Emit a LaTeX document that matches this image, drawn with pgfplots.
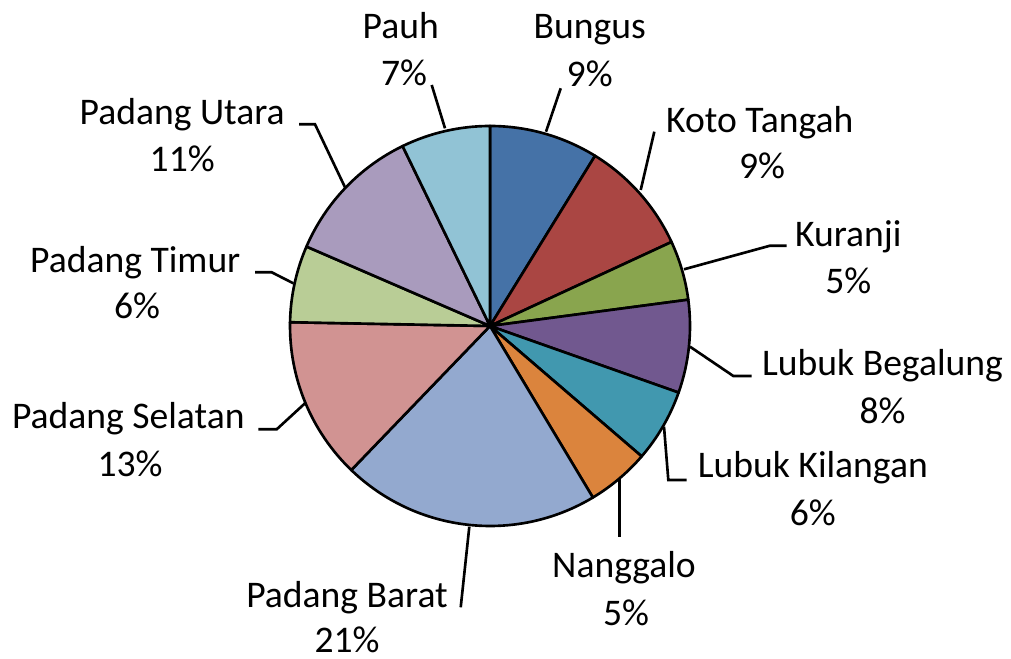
\documentclass[border=0pt]{standalone}
\usepackage{pgfplots}
\pgfplotsset{compat=1.18}
\usepackage{fontspec}
\setmainfont{Carlito}
\definecolor{cBungus}{HTML}{4572A7}
\definecolor{cKoto}{HTML}{AA4643}
\definecolor{cKuranji}{HTML}{89A54E}
\definecolor{cLB}{HTML}{71588F}
\definecolor{cLK}{HTML}{4198AF}
\definecolor{cNang}{HTML}{DB843D}
\definecolor{cPB}{HTML}{93A9CF}
\definecolor{cPS}{HTML}{D19392}
\definecolor{cPT}{HTML}{B9CD96}
\definecolor{cPU}{HTML}{A99BBD}
\definecolor{cPauh}{HTML}{91C3D5}
\tikzset{lbl/.style={font=\fontsize{10.7}{13}\selectfont, inner sep=0pt, anchor=base}}
\begin{document}
\begin{tikzpicture}
\path[use as bounding box] (0,0) rectangle (101.1mm,65.8mm);
\begin{axis}[at={(0,0)}, anchor=south west, x=0.1mm, y=0.1mm,
  xmin=0, xmax=1011, ymin=0, ymax=658, hide axis, clip=false]
\gdef\acc{0}
% share of each district (percent), clockwise from 12 o'clock
\foreach \v/\c in {8.8/cBungus, 9.3/cKoto, 4.8/cKuranji, 7.5/cLB, 5.9/cLK,
                   5.1/cNang, 20.8/cPB, 13.1/cPS, 6.2/cPT, 11.3/cPU, 7.2/cPauh}{
  \pgfmathsetmacro\angA{90-3.6*\acc}
  \pgfmathsetmacro\angB{90-3.6*(\acc+\v)}
  \edef\tmp{\noexpand\draw[fill=\c, draw=black, line width=0.75pt, line join=round]
    (axis cs:490,332) -- ++(\angA:20mm) arc[start angle=\angA, end angle=\angB, radius=20mm] -- cycle;}
  \tmp
  \pgfmathsetmacro\nacc{\acc+\v}
  \xdef\acc{\nacc}
}
% leader lines
\begin{scope}[line width=0.75pt]
\draw (axis cs:445,529.7) -- (axis cs:431.7,573);
\draw (axis cs:546,526.3) -- (axis cs:560.7,569.7);
\draw (axis cs:640.7,468) -- (axis cs:654.3,526.3);
\draw (axis cs:684,388.7) -- (axis cs:770,412.3) -- (axis cs:786.7,412.3);
\draw (axis cs:690,311.3) -- (axis cs:733.3,282) -- (axis cs:751.7,282);
\draw (axis cs:664,231.3) -- (axis cs:668.3,178) -- (axis cs:686.7,178);
\draw (axis cs:619.3,178.7) -- (axis cs:619.3,120.7);
\draw (axis cs:469.3,131.3) -- (axis cs:460.7,50.7);
\draw (axis cs:305,254.7) -- (axis cs:276.7,228.7) -- (axis cs:258.3,228.7);
\draw (axis cs:293.3,374.7) -- (axis cs:271.7,385.7) -- (axis cs:255,385.7);
\draw (axis cs:345,470.7) -- (axis cs:315,533.7) -- (axis cs:299,533.7);
\end{scope}
% labels
\node[lbl] at (axis cs:400.8,619.7) {Pauh};
\node[lbl] at (axis cs:404,572) {7\%};
\node[lbl] at (axis cs:589.7,619) {Bungus};
\node[lbl] at (axis cs:589.7,571) {9\%};
\node[lbl] at (axis cs:759.7,525.7) {Koto Tangah};
\node[lbl] at (axis cs:762,479.7) {9\%};
\node[lbl] at (axis cs:848.3,411.3) {Kuranji};
\node[lbl] at (axis cs:848.3,364.7) {5\%};
\node[lbl] at (axis cs:882.5,282) {Lubuk Begalung};
\node[lbl] at (axis cs:882.5,234.7) {8\%};
\node[lbl] at (axis cs:812.8,180.3) {Lubuk Kilangan};
\node[lbl] at (axis cs:812.8,133) {6\%};
\node[lbl] at (axis cs:624,80.7) {Nanggalo};
\node[lbl] at (axis cs:626,33) {5\%};
\node[lbl] at (axis cs:347,51) {Padang Barat};
\node[lbl] at (axis cs:347,6) {21\%};
\node[lbl] at (axis cs:128.3,229.7) {Padang Selatan};
\node[lbl] at (axis cs:130,182) {13\%};
\node[lbl] at (axis cs:135.3,385.7) {Padang Timur};
\node[lbl] at (axis cs:137,339.7) {6\%};
\node[lbl] at (axis cs:182.2,533.7) {Padang Utara};
\node[lbl] at (axis cs:182.2,486.3) {11\%};
\end{axis}
\end{tikzpicture}
\end{document}
